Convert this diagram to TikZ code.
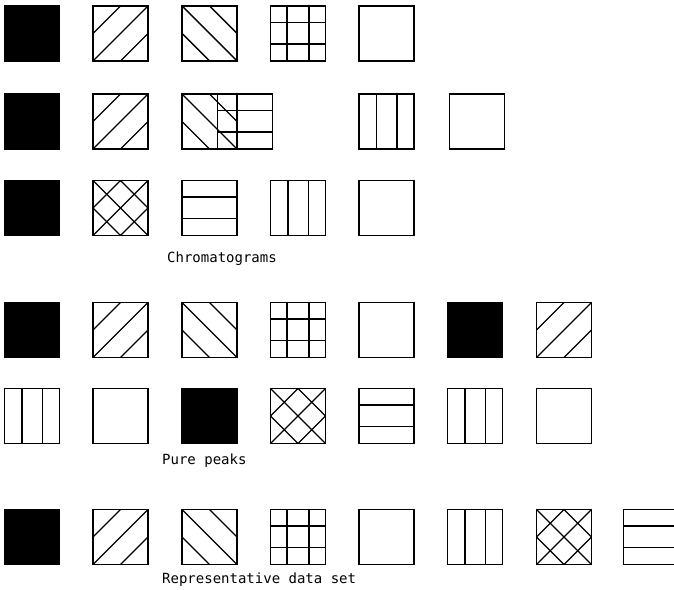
\documentclass[tikz,border=0pt]{standalone}
\usepackage{fontspec}
\setmonofont{DejaVu Sans Mono}

\begin{document}
\begin{tikzpicture}[x=1pt, y=1pt,
    tile/.style={draw, line width=1.7pt, minimum width=55, minimum height=55,
                 inner sep=0pt},
    hatchline/.style={line width=1.4pt},
    blacktile/.style={tile, fill=black},
    blanktile/.style={tile},
    slashtile/.style={tile, path picture={
        \draw[hatchline] (path picture bounding box.south west) -- (path picture bounding box.north east);
        \draw[hatchline] (path picture bounding box.west) -- (path picture bounding box.north);
        \draw[hatchline] (path picture bounding box.south) -- (path picture bounding box.east);}},
    backtile/.style={tile, path picture={
        \draw[hatchline] (path picture bounding box.north west) -- (path picture bounding box.south east);
        \draw[hatchline] (path picture bounding box.north) -- (path picture bounding box.east);
        \draw[hatchline] (path picture bounding box.west) -- (path picture bounding box.south);}},
    crosstile/.style={tile, path picture={
        \draw[hatchline] (path picture bounding box.south west) -- (path picture bounding box.north east);
        \draw[hatchline] (path picture bounding box.west) -- (path picture bounding box.north)
                         -- (path picture bounding box.east) -- (path picture bounding box.south) -- cycle;
        \draw[hatchline] (path picture bounding box.north west) -- (path picture bounding box.south east);}},
    gridtile/.style={tile, path picture={
        \foreach \d in {16.5,38.5}
            \draw[hatchline] ([xshift=\d]path picture bounding box.north west) -- ([xshift=\d]path picture bounding box.south west);
        \foreach \d in {16.5,38}
            \draw[hatchline] ([yshift=-\d]path picture bounding box.north west) -- ([yshift=-\d]path picture bounding box.north east);}},
    vtile/.style={tile, path picture={
        \foreach \d in {17.5,38}
            \draw[hatchline] ([xshift=\d]path picture bounding box.north west) -- ([xshift=\d]path picture bounding box.south west);}},
    htile/.style={tile, path picture={
        \foreach \d in {16.5,38}
            \draw[hatchline] ([yshift=-\d]path picture bounding box.north west) -- ([yshift=-\d]path picture bounding box.north east);}},
    caption/.style={font=\ttfamily\fontsize{14}{16}\selectfont, anchor=base west, inner sep=0pt},
]

\clip (0,0) rectangle (674,589);

% Chromatograms
\node[blacktile] (c11) at (32, 555.5) {};
\node[slashtile] (c12) at (120.5, 555.5) {};
\node[backtile]  (c13) at (209.5, 555.5) {};
\node[gridtile]  (c14) at (298, 555.5) {};
\node[blanktile] (c15) at (386.5, 555.5) {};

\node[blacktile] (c21) at (32, 467.5) {};
\node[slashtile] (c22) at (120.5, 467.5) {};
\node[backtile]  (c23) at (209.5, 467.5) {};
\node[htile]     (c24) at (245, 467.5) {};
\node[vtile]     (c25) at (386.5, 467.5) {};
\node[blanktile] (c26) at (477, 467.5) {};

\node[blacktile] (c31) at (32, 381) {};
\node[crosstile] (c32) at (120.5, 381) {};
\node[htile]     (c33) at (209.5, 381) {};
\node[vtile]     (c34) at (298, 381) {};
\node[blanktile] (c35) at (386.5, 381) {};

% Pure peaks
\node[blacktile] (p1) at (32, 259) {};
\node[slashtile] (p2) at (120.5, 259) {};
\node[backtile]  (p3) at (209.5, 259) {};
\node[gridtile]  (p4) at (298, 259) {};
\node[blanktile] (p5) at (386.5, 259) {};
\node[blacktile] (p6) at (475, 259) {};
\node[slashtile] (p7) at (564, 259) {};

\node[vtile]     (p8)  at (32, 173) {};
\node[blanktile] (p9)  at (120.5, 173) {};
\node[blacktile] (p10) at (209.5, 173) {};
\node[crosstile] (p11) at (298, 173) {};
\node[htile]     (p12) at (386.5, 173) {};
\node[vtile]     (p13) at (475, 173) {};
\node[blanktile] (p14) at (564, 173) {};

% Representative data set
\node[blacktile] (d1) at (32, 52) {};
\node[slashtile] (d2) at (120.5, 52) {};
\node[backtile]  (d3) at (209.5, 52) {};
\node[gridtile]  (d4) at (298, 52) {};
\node[blanktile] (d5) at (386.5, 52) {};
\node[vtile]     (d6) at (475, 52) {};
\node[crosstile] (d7) at (564, 52) {};
\node[htile]     (d8) at (651, 52) {};

% Labels
\node[caption] (chrom) at (167, 326.5) {Chromatograms};
\node[caption] (pure)  at (162, 124.7) {Pure peaks};
\node[caption] (repr)  at (162, 5.7) {Representative data set};

\end{tikzpicture}
\end{document}
